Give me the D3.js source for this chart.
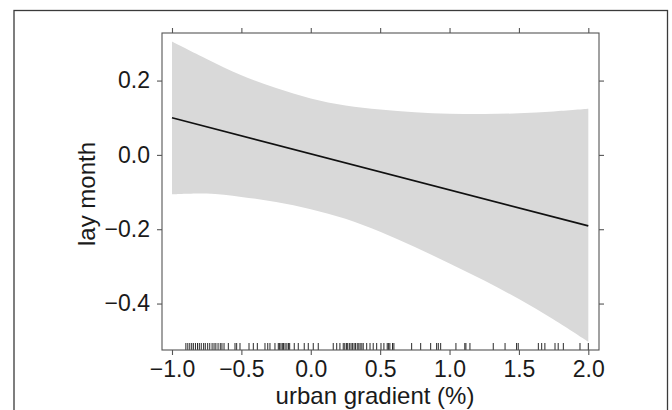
<!DOCTYPE html>
<html>
<head>
<meta charset="utf-8">
<script src="https://cdn.jsdelivr.net/npm/d3@7"></script>
<style>
  body { margin: 0; background: #fff; }
  text { font-family: "Liberation Sans", Arial, sans-serif; fill: #1a1a1a; }
</style>
</head>
<body>
<svg id="chart" width="672" height="410"></svg>
<script>
// fitted effect + confidence band
var bandX     = [-1, -0.75, -0.5, -0.25, 0, 0.25, 0.5, 0.75, 1.0, 1.25, 1.5, 1.75, 2.0]
var bandUpper = [0.305, 0.258, 0.214, 0.180, 0.152, 0.133, 0.122, 0.115, 0.111, 0.110, 0.112, 0.117, 0.124]
var bandLower = [-0.106, -0.104, -0.113, -0.127, -0.146, -0.172, -0.207, -0.248, -0.292, -0.338, -0.388, -0.443, -0.503]

var lineX = [-1, 2]
var lineY = [0.100, -0.191]

// rug of observed urban gradient values
var rugValues = [
  -0.900, -0.886, -0.872, -0.858, -0.846, -0.831, -0.816, -0.803, -0.789, -0.772, -0.760, -0.743,
  -0.728, -0.711, -0.697, -0.684, -0.668, -0.652, -0.640, -0.625,
  -0.594, -0.546, -0.534, -0.510, -0.445, -0.414, -0.385, -0.330, -0.310, -0.294, -0.258, -0.234,
  -0.226, -0.215, -0.205, -0.196, -0.185, -0.172, -0.160, -0.152,
  -0.119, -0.090, -0.047, -0.018, 0.018, 0.054,
  0.162, 0.187, 0.210, 0.234, 0.245, 0.257, 0.266, 0.278, 0.290, 0.300, 0.312, 0.322, 0.335,
  0.346, 0.356, 0.368, 0.378, 0.403, 0.427, 0.450, 0.475, 0.506, 0.527, 0.551, 0.561, 0.570,
  0.589, 0.599, 0.727, 0.792, 0.864, 0.907, 0.919, 0.936, 1.046, 1.110, 1.118, 1.147,
  1.315, 1.400, 1.483, 1.495, 1.640, 1.664, 1.687, 1.760, 1.783, 1.820, 1.940, 2.000
]

var xTicks = [-1.0, -0.5, 0.0, 0.5, 1.0, 1.5, 2.0]
var yTicks = [-0.4, -0.2, 0.0, 0.2]

var svg = d3.select('#chart')

// outer panel frame (runs off the bottom of the picture)
svg.append('rect')
  .attr('x', 14).attr('y', 10.5)
  .attr('width', 653.5).attr('height', 420)
  .attr('fill', 'none')
  .attr('stroke', '#3a3a3a')
  .attr('stroke-width', 1.3)

var pLeft = 162, pRight = 599, pTop = 33, pBottom = 350

var x = d3.scaleLinear().domain([-1.072, 2.077]).range([pLeft, pRight])
var y = d3.scaleLinear().domain([-0.525, 0.328]).range([pBottom, pTop])

var band = d3.area()
  .x(function(d, i) { return x(bandX[i]) })
  .y0(function(d, i) { return y(bandLower[i]) })
  .y1(function(d, i) { return y(bandUpper[i]) })
  .curve(d3.curveCatmullRom)

svg.append('path')
  .attr('d', band(bandX))
  .attr('fill', '#d9d9d9')

var line = d3.line()
  .x(function(d, i) { return x(lineX[i]) })
  .y(function(d, i) { return y(lineY[i]) })

svg.append('path')
  .attr('d', line(lineX))
  .attr('fill', 'none')
  .attr('stroke', '#111')
  .attr('stroke-width', 1.7)

// rug
svg.append('g').selectAll('line')
  .data(rugValues)
  .enter().append('line')
  .attr('x1', function(d) { return x(d) })
  .attr('x2', function(d) { return x(d) })
  .attr('y1', pBottom - 7)
  .attr('y2', pBottom)
  .attr('stroke', '#2a2a2a')
  .attr('stroke-width', 1)

// box
svg.append('rect')
  .attr('x', pLeft).attr('y', pTop)
  .attr('width', pRight - pLeft).attr('height', pBottom - pTop)
  .attr('fill', 'none')
  .attr('stroke', '#555')
  .attr('stroke-width', 1.1)

function styleAxis(g) {
  g.select('.domain').remove()
  g.selectAll('.tick line').attr('stroke', '#555').attr('stroke-width', 1.1)
  g.selectAll('text').style('font-size', '23px').attr('fill', '#1a1a1a')
}

var fmt = d3.format('.1f')

var gBottom = svg.append('g')
  .attr('transform', 'translate(0,' + pBottom + ')')
  .call(d3.axisBottom(x).tickValues(xTicks).tickFormat(fmt).tickSize(5))
  .call(styleAxis)
gBottom.selectAll('text').attr('y', 27).attr('dy', null)

svg.append('g')
  .attr('transform', 'translate(0,' + pTop + ')')
  .call(d3.axisTop(x).tickValues(xTicks).tickFormat('').tickSize(5))
  .call(styleAxis)

svg.append('g')
  .attr('transform', 'translate(' + pLeft + ',0)')
  .call(d3.axisLeft(y).tickValues(yTicks).tickFormat(fmt).tickSize(5).tickPadding(7))
  .call(styleAxis)

svg.append('g')
  .attr('transform', 'translate(' + pRight + ',0)')
  .call(d3.axisRight(y).tickValues(yTicks).tickFormat('').tickSize(5))
  .call(styleAxis)

// axis titles
svg.append('text')
  .attr('x', 375).attr('y', 404)
  .attr('text-anchor', 'middle')
  .style('font-size', '24px')
  .text('urban gradient (%)')

svg.append('text')
  .attr('transform', 'translate(95,194) rotate(-90)')
  .attr('text-anchor', 'middle')
  .style('font-size', '24px')
  .text('lay month')
</script>
</body>
</html>
